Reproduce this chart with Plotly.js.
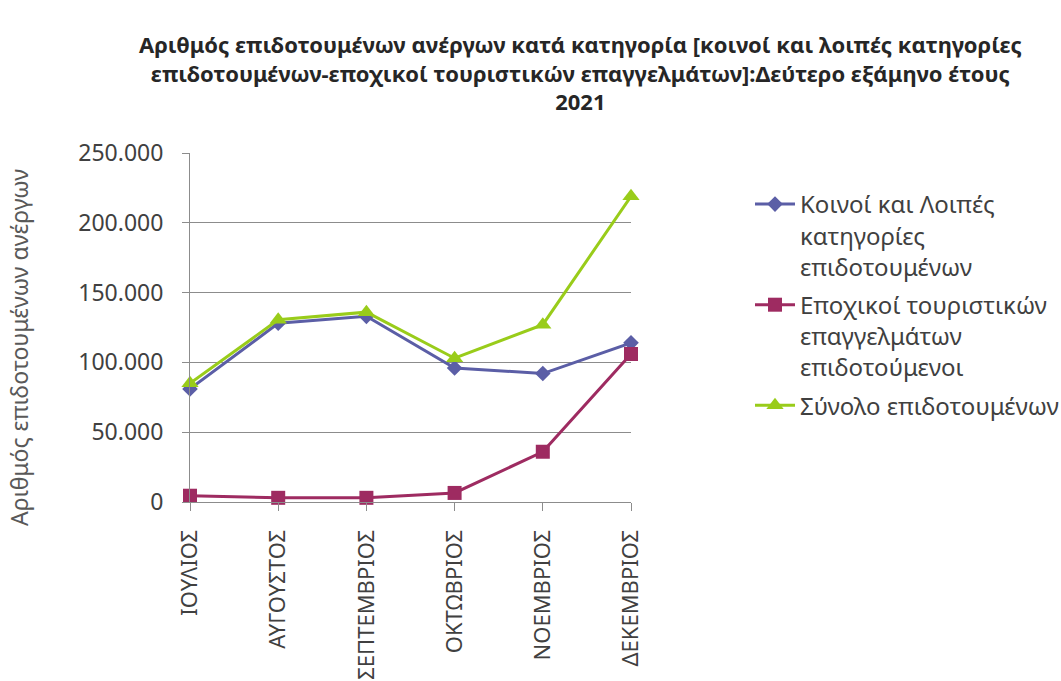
<!DOCTYPE html>
<html>
<head>
<meta charset="utf-8">
<script src="https://cdn.plot.ly/plotly-3.0.1.min.js"></script>
<style>html,body{margin:0;padding:0;background:#fff;}#chart{width:1061px;height:681px;}</style>
</head>
<body>
<div id="chart"></div>
<script>
var months = ['ΙΟΥΛΙΟΣ','ΑΥΓΟΥΣΤΟΣ','ΣΕΠΤΕΜΒΡΙΟΣ','ΟΚΤΩΒΡΙΟΣ','ΝΟΕΜΒΡΙΟΣ','ΔΕΚΕΜΒΡΙΟΣ'];
var commonUnemployed = [81000,128000,133000,96000,92000,114000];
var seasonalTourism = [4500,3000,3000,6500,36000,106000];
var totalSubsidised = [85000,130500,136000,103000,127000,219000];
var seriesNames = ['Κοινοί και Λοιπές<br>κατηγορίες<br>επιδοτουμένων','Εποχικοί τουριστικών<br>επαγγελμάτων<br>επιδοτούμενοι','Σύνολο επιδοτουμένων'];
var yTicks = [0,50000,100000,150000,200000,250000];
var yTitle = 'Αριθμός επιδοτουμένων ανέργων';

var F = '"Noto Sans", "Open Sans", sans-serif';
var traces = [
  {x: months, y: commonUnemployed, name: seriesNames[0], legendgroup:'a', type:'scatter', mode:'lines+markers', cliponaxis:false,
   line:{color:'#5B5EA6', width:3}, marker:{symbol:'diamond', size:12, color:'#5B5EA6'}},
  {x: months, y: seasonalTourism, name: seriesNames[1], legendgroup:'b', type:'scatter', mode:'lines+markers', cliponaxis:false,
   line:{color:'#9E2B61', width:3}, marker:{symbol:'square', size:14, color:'#9E2B61'}},
  {x: months, y: totalSubsidised, name: seriesNames[2], legendgroup:'c', type:'scatter', mode:'lines+markers', cliponaxis:false,
   line:{color:'#99CC1A', width:3}, marker:{symbol:'triangle-up', size:15, color:'#99CC1A'}}
];
var layout = {
  width:1061, height:681,
  paper_bgcolor:'#fff', plot_bgcolor:'#fff',
  separators: ',.',
  margin:{l:190, r:430, t:153, b:179, pad:0, autoexpand:false},
  font:{family:F, color:'#404040'},
  title:{text:'Αριθμός επιδοτουμένων ανέργων κατά κατηγορία [κοινοί και λοιπές κατηγορίες<br>επιδοτουμένων-εποχικοί τουριστικών επαγγελμάτων]:Δεύτερο εξάμηνο έτους<br>2021',
    font:{family:F, size:22, color:'#262626', weight:'bold'}, x:0.547, xanchor:'center', xref:'container', y:1-53/681, yanchor:'top', yref:'container'},
  xaxis:{type:'category', range:[0,5], showgrid:false, zeroline:false, showline:true, linecolor:'#8c8c8c', linewidth:1,
    ticks:'outside', ticklen:8, tickcolor:'#8c8c8c', tickangle:-90, tickfont:{family:F, size:22, color:'#404040'}, ticklabelstandoff:10, automargin:false},
  yaxis:{range:[0,250000], tickvals:yTicks, tickformat:',d', showgrid:true, gridcolor:'#8c8c8c', gridwidth:1, zeroline:false,
    showline:true, linecolor:'#8c8c8c', linewidth:1, ticks:'outside', ticklen:7, tickcolor:'#8c8c8c',
    tickfont:{family:F, size:23, color:'#404040'}, ticklabelstandoff:14, automargin:false},
  annotations:[{text:yTitle, textangle:-90, xref:'paper', yref:'paper', x:(19-190)/441, y:(502-348)/349,
    xanchor:'center', yanchor:'middle', showarrow:false, font:{family:F, size:23, color:'#595959'}}],
  legend:{x:(750-190)/441, xanchor:'left', y:(502-182)/349, yanchor:'top', valign:'top', font:{family:F, size:24, color:'#404040'}, bgcolor:'rgba(0,0,0,0)', tracegroupgap:4, itemwidth:40},
  showlegend:true
};
Plotly.newPlot('chart', traces, layout, {displayModeBar:false, staticPlot:true});
</script>
</body>
</html>
